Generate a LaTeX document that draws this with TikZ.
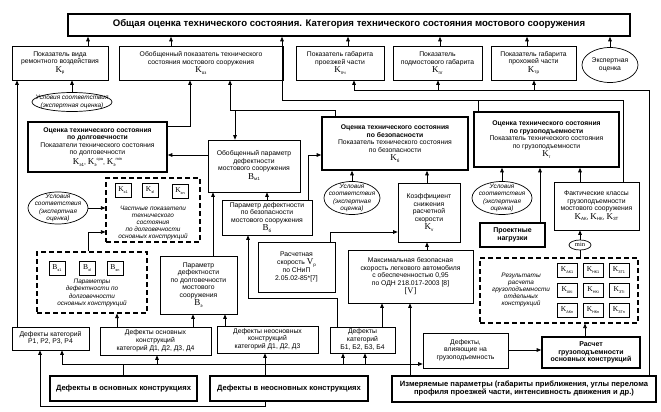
\documentclass[tikz,border=0pt]{standalone}
\usepackage{fontspec}
\setmainfont{Liberation Sans}
\newfontfamily\serf{Liberation Serif}
\usetikzlibrary{shapes.geometric,arrows.meta,calc}
\newcommand{\KK}[2][K]{{\serf\fontsize{9}{9}\selectfont #1}\raisebox{-0.5ex}{\fontsize{4.5}{4.5}\selectfont #2}}
\newcommand{\kk}[2][K]{{\serf\fontsize{7.5}{7.5}\selectfont #1}\raisebox{-0.4ex}{\fontsize{3.8}{3.8}\selectfont #2}}
\newcommand{\zc}[1]{\makebox[0pt]{\raisebox{-0.25em}[0pt][0pt]{\begin{tabular}{@{}c@{}}#1\end{tabular}}}}
\newcommand{\bx}[7]{%
 \pgfmathsetmacro{\cx}{(#3+#5)/2}\pgfmathsetmacro{\cy}{(#4+#6)/2}%
 \pgfmathsetmacro{\ww}{#5-#3}\pgfmathsetmacro{\hh}{#6-#4}%
 \node[#2, minimum width=\ww pt, minimum height=\hh pt] (#1) at (\cx,\cy) {\zc{#7}};}
\begin{document}
\begin{tikzpicture}[x=1pt,y=-1pt,
 every node/.style={font=\fontsize{6.8}{7.6}\selectfont, align=center, inner sep=0pt},
 box/.style={draw, line width=0.7pt, rectangle},
 tbox/.style={draw, line width=1.6pt, rectangle},
 dbox/.style={draw, line width=1.1pt, dash pattern=on 5pt off 3pt, rectangle},
 ell/.style={draw, ellipse, line width=0.7pt, inner sep=0pt},
 kbx/.style={draw, line width=0.7pt, minimum width=16pt, minimum height=14pt, inner sep=0pt},
 kbz/.style={draw, line width=0.7pt, minimum width=20pt, minimum height=14pt, inner sep=0pt},
 itx/.style={font=\fontsize{6.4}{7.1}\selectfont\itshape},
 bld/.style={font=\fontsize{7}{7.9}\selectfont\bfseries},
 bigb/.style={font=\fontsize{7.6}{8.6}\selectfont\bfseries},
 arr/.style={-{Triangle[length=4.5pt,width=3.6pt]}, line width=0.7pt},
 ln/.style={line width=0.7pt}]
\useasboundingbox (0,0) rectangle (661,412);
\fill[white] (0,0) rectangle (661,412);
% top
\bx{top}{tbox,font=\fontsize{9.6}{10}\selectfont\bfseries}{68}{14}{630}{36}{Общая оценка технического состояния. Категория технического состояния мостового сооружения}
% row 2
\bx{kr}{box}{12}{46}{108}{80}{Показатель вида\\ремонтного воздействия\\\KK{р}}
\bx{koz}{box}{119}{46}{283}{80}{Обобщенный показатель технического\\состояния мостового сооружения\\\KK{оз}}
\bx{kpch}{box}{296}{46}{384}{80}{Показатель габарита\\проезжей части\\\KK{пч}}
\bx{kpg}{box}{393}{46}{482}{80}{Показатель\\подмостового габарита\\\KK{пг}}
\bx{ktr}{box}{491}{46}{576}{80}{Показатель габарита\\прохожей части\\\KK{тр}}
\node[ell, minimum width=56pt, minimum height=35pt] (eksp) at (610,65) {\zc{Экспертная\\оценка}};
% ellipses
\node[ell, itx, minimum width=80pt, minimum height=19pt] (usl1) at (72,102) {\zc{Условия соответствия\\(экспертная оценка)}};
\node[ell, itx, minimum width=60pt, minimum height=32pt] (usl2) at (58,208) {\zc{Условия\\соответствия\\(экспертная\\оценка)}};
\node[ell, itx, minimum width=56pt, minimum height=33pt] (usl3) at (352,198) {\zc{Условия\\соответствия\\(экспертная\\оценка)}};
\node[ell, itx, minimum width=60pt, minimum height=33pt] (usl4) at (502,198) {\zc{Условия\\соответствия\\(экспертная\\оценка)}};
% assessment boxes
\bx{dolg}{tbox}{28}{122}{167}{172}{{\bfseries Оценка технического состояния}\\{\bfseries по долговечности}\\Показатели технического состояния\\по долговечности\\\KK{э1}, \KK{э}\raisebox{1.3ex}{\fontsize{4}{4}\selectfont сра}, \KK{э}\raisebox{1.3ex}{\fontsize{4}{4}\selectfont min}}
\bx{kb}{tbox}{322}{117}{468}{170}{{\bfseries Оценка технического состояния}\\{\bfseries по безопасности}\\Показатель технического состояния\\по безопасности\\\KK{б}}
\bx{kg}{tbox}{474}{112}{619}{167}{{\bfseries Оценка технического состояния}\\{\bfseries по грузоподъемности}\\Показатель технического состояния\\по грузоподъемности\\\KK{г}}
\bx{bm1}{box}{208}{140}{300}{192}{Обобщенный параметр\\дефектности\\мостового сооружения\\\KK[B]{м1}}
\bx{bb}{box}{222}{200}{312}{235}{Параметр дефектности\\по безопасности\\мостового сооружения\\\KK[B]{б}}
\bx{bdolg}{box}{160}{256}{237}{314}{Параметр\\дефектности\\по долговечности\\мостового\\сооружения\\\KK[B]{э}}
\bx{vr}{box}{258}{242}{335}{292}{Расчетная\\скорость \KK[V]{р}\\по СНиП\\2.05.02-85*[7]}
\bx{kv}{box}{398}{183}{460}{242}{Коэффициент\\снижения\\расчетной\\скорости\\\KK{v}}
\bx{vmax}{box}{348}{250}{473}{303}{Максимальная безопасная\\скорость легкового автомобиля\\с обеспеченностью 0,95\\по ОДН 218.017-2003 [8]\\{\serf\fontsize{8.5}{8.5}\selectfont [V]}}
\bx{proekt}{tbox,bld}{480}{223}{545}{247}{Проектные\\нагрузки}
\bx{fakt}{box}{554}{182}{639}{230}{Фактические классы\\грузоподъемности\\мостового сооружения\\\KK{АК}, \KK{НК}, \KK{ЗТ}}
\node[ell, minimum width=22pt, minimum height=10pt, font=\fontsize{6.5}{6.5}\selectfont\serf] (mn) at (580,245) {\zc{min}};
% dashed groups
\bx{chast}{dbox}{106}{178}{200}{242}{}
\node[kbx] (ke1) at (123,190) {\kk{э1}};
\node[kbx] (kel) at (150,190) {\kk{эl}};
\node[kbx] (ken) at (180,191) {\kk{эn}};
\node[itx] (chastt) at (153,223) {\zc{Частные показатели\\технического\\состояния\\по долговечности\\основных конструкций}};
\bx{par}{dbox}{37}{252}{147}{313}{}
\node[kbx] (be1) at (57,268) {\kk[B]{э1}};
\node[kbx] (bel) at (87,268) {\kk[B]{эl}};
\node[kbx] (ben) at (115,268) {\kk[B]{эn}};
\node[itx] (part) at (92,293) {\zc{Параметры\\дефектности по\\долговечности\\основных конструкций}};
\bx{rez}{dbox}{480}{258}{638}{323}{}
\node[kbz] (r11) at (567,270) {\kk{АК1}};
\node[kbz] (r12) at (593,270) {\kk{НК1}};
\node[kbz] (r13) at (619,270) {\kk{ЗТ1}};
\node[kbz] (r21) at (567,290) {\kk{АКi}};
\node[kbz] (r22) at (593,290) {\kk{НКi}};
\node[kbz] (r23) at (619,290) {\kk{ЗТi}};
\node[kbz] (r31) at (567,310) {\kk{АКn}};
\node[kbz] (r32) at (593,310) {\kk{НКn}};
\node[kbz] (r33) at (619,310) {\kk{ЗТn}};
\node[itx] (rezt) at (521,290) {\zc{Результаты\\расчета\\грузоподъемности\\отдельных\\конструкций}};
% lower boxes
\bx{raschet}{tbox,bld}{542}{337}{640}{368}{Расчет\\грузоподъемности\\основных конструкций}
\bx{defvl}{box}{423}{333}{508}{368}{Дефекты,\\влияющие на\\грузоподъемность}
\bx{defP}{box}{12}{327}{89}{350}{Дефекты категорий\\Р1, Р2, Р3, Р4}
\bx{defD}{box}{100}{327}{211}{355}{Дефекты основных\\конструкций\\категорий Д1, Д2, Д3, Д4}
\bx{defN}{box}{217}{326}{318}{353}{Дефекты неосновных\\конструкций\\категорий Д1, Д2, Д3}
\bx{defB}{box}{330}{327}{395}{353}{Дефекты\\категорий\\Б1, Б2, Б3, Б4}
\bx{osn}{tbox,bigb}{50}{376}{197}{401}{Дефекты в основных конструкциях}
\bx{neosn}{tbox,bigb}{210}{376}{368}{401}{Дефекты в неосновных конструкциях}
\bx{izm}{tbox,bigb}{392}{376}{656}{402}{Измеряемые параметры (габариты приближения, углы перелома\\профиля проезжей части, интенсивность движения и др.)}
% connectors: row 2 -> top
\draw[arr] (88,0 |- kr.north) -- (88,0 |- top.south);
\draw[arr] (171,0 |- koz.north) -- (171,0 |- top.south);
\draw[arr] (348,0 |- kpch.north) -- (348,0 |- top.south);
\draw[arr] (440,0 |- kpg.north) -- (440,0 |- top.south);
\draw[arr] (527,0 |- ktr.north) -- (527,0 |- top.south);
\draw[arr] (eksp.north) -- (eksp.north |- top.south);
\draw[arr] (usl1.north) -- (usl1.north |- kr.south);
\draw[arr] (17,0 |- defP.north) -- (17,0 |- kr.south);
\draw[arr] (dolg.east |- 0,126) -- (190,126) -- (190,0 |- koz.south);
\draw[arr] (335,0 |- kb.north) -- (335,110) -- (230,110) -- (230,0 |- koz.south);
\draw[arr] (235,110) -- (235,0 |- bm1.north);
\draw[arr] (bm1.west |- 0,155) -- (dolg.east |- 0,155);
\draw[arr] (usl2.east) -- (chast.west |- usl2.east);
\draw[arr] (88,0 |- par.north) -- (88,232) -- (chast.west |- 0,232);
\draw[arr] (213,0 |- bdolg.north) -- (213,0 |- bm1.south);
\draw[arr] (267,0 |- bb.north) -- (267,0 |- bm1.south);
\draw[arr] (308,0 |- bb.north) -- (308,155) -- (kb.west |- 0,155);
\draw[arr] (usl3.north) -- (usl3.north |- kb.south);
\draw[arr] (427,0 |- kv.north) -- (427,0 |- kb.south);
\draw[arr] (330,0 |- vr.north) -- (330,232) -- (kv.west |- 0,232);
\draw[arr] (427,0 |- vmax.north) -- (427,0 |- kv.south);
\draw[arr] (382,0 |- defB.north) -- (382,0 |- vmax.south);
\draw[arr] (410,0 |- izm.north) -- (410,0 |- vmax.south);
\draw[arr] (337,0 |- defB.north) -- (337,298) -- (248,298) -- (248,0 |- bb.south);
\draw[arr] (usl4.north) -- (usl4.north |- kg.south);
\draw[arr] (540,0 |- proekt.north) -- (540,0 |- kg.south);
\draw[arr] (580,0 |- fakt.north) -- (580,0 |- kg.south);
\draw[arr] (mn.north) -- (mn.north |- fakt.south);
\draw[ln] (580,0 |- rez.north) -- (mn.south);
\draw[arr] (585,0 |- raschet.north) -- (585,0 |- rez.south);
\draw[arr] (defvl.east |- 0,350) -- (raschet.west |- 0,350);
% measured parameters -> gauges
\draw[arr] (649,0 |- izm.north) -- (649,90) -- (354,90) -- (354,0 |- kpch.south);
\draw[arr] (438,90) -- (438,0 |- kpg.south);
\draw[arr] (534,90) -- (534,0 |- ktr.south);
% capacity -> top
\draw[arr] (623,0 |- fakt.north) -- (623,100) -- (282,100) -- (282,0 |- top.south);
\draw[ln] (478,0 |- kg.north) -- (478,100);
% defects distribution
\draw[ln] (123,0 |- osn.north) -- (123,364);
\draw[ln] (62,364) -- (365,364);
\draw[arr] (62,364) -- (62,0 |- defP.south);
\draw[arr] (157,364) -- (157,0 |- defD.south);
\draw[arr] (265,0 |- neosn.north) -- (265,0 |- defN.south);
\draw[arr] (343,364) -- (343,0 |- defB.south);
\draw[arr] (365,364) -- (365,0 |- defB.south);
\draw[arr] (365,364) -- (defvl.west |- 0,364);
\draw[arr] (265,0 |- neosn.south) -- (265,406) -- (40,406) -- (40,0 |- defP.south);
\draw[arr] (117,0 |- defD.north) -- (117,0 |- par.south);
\draw[arr] (193,0 |- defD.north) -- (193,0 |- bdolg.south);
\draw[arr] (225,0 |- defN.north) -- (225,0 |- bdolg.south);
\end{tikzpicture}
\end{document}
